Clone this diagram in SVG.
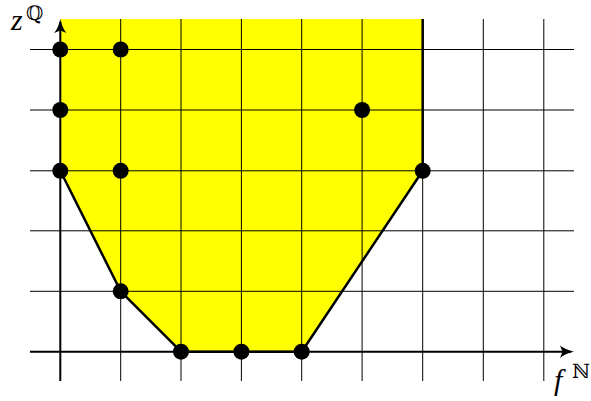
<svg xmlns="http://www.w3.org/2000/svg" width="591" height="401" viewBox="0 0 591 401">
<style>
.grid{stroke:#000;stroke-width:1;fill:none}
.axis{stroke:#000;stroke-width:2;fill:none}
.edge{stroke:#000;stroke-width:2.5;fill:none;stroke-linejoin:round}
.dot{fill:#000}
.lbl{font-family:"Liberation Serif","DejaVu Serif",serif;font-style:italic;font-size:30px;fill:#000}
.sup{font-family:"DejaVu Serif","Liberation Serif",serif;font-size:20px;fill:#000}
</style>
<rect width="591" height="401" fill="#fff"/>
<g id="region">
<polygon points="60.3,19 60.3,170.8 120.7,291.3 181,351.7 301.7,351.7 422.7,170.8 422.7,19" fill="#ffff00"/>
</g>
<g id="grid" class="grid">
<line x1="120.7" y1="19" x2="120.7" y2="381"/>
<line x1="181" y1="19" x2="181" y2="381"/>
<line x1="241.4" y1="19" x2="241.4" y2="381"/>
<line x1="301.7" y1="19" x2="301.7" y2="381"/>
<line x1="362.1" y1="19" x2="362.1" y2="381"/>
<line x1="422.7" y1="19" x2="422.7" y2="381"/>
<line x1="483.3" y1="19" x2="483.3" y2="381"/>
<line x1="543.8" y1="19" x2="543.8" y2="381"/>
<line x1="30" y1="49.5" x2="574" y2="49.5"/>
<line x1="30" y1="110" x2="574" y2="110"/>
<line x1="30" y1="170.8" x2="574" y2="170.8"/>
<line x1="30" y1="230.8" x2="574" y2="230.8"/>
<line x1="30" y1="291.3" x2="574" y2="291.3"/>
</g>
<g id="connectors">
<line class="axis" x1="30" y1="351.7" x2="571" y2="351.7"/>
<path d="M574,351.7 C568,350.5 563,348 560,345.5 L562.5,351.7 L560,357.9 C563,355.4 568,352.9 574,351.7 Z" fill="#000"/>
<line class="axis" x1="60.3" y1="381" x2="60.3" y2="22"/>
<path d="M60.3,19 C59.1,25 56.6,30 54.1,33 L60.3,30.5 L66.5,33 C64,30 61.5,25 60.3,19 Z" fill="#000"/>
<polyline class="edge" points="60.3,170.8 120.7,291.3 181,351.7 301.7,351.7 422.7,170.8 422.7,19"/>
</g>
<g id="points" class="dot">
<circle cx="60.3" cy="49.5" r="8"/>
<circle cx="120.7" cy="49.5" r="8"/>
<circle cx="60.3" cy="110" r="8"/>
<circle cx="362.1" cy="110" r="8"/>
<circle cx="60.3" cy="170.8" r="8"/>
<circle cx="120.7" cy="170.8" r="8"/>
<circle cx="422.7" cy="170.8" r="8"/>
<circle cx="120.7" cy="291.3" r="8"/>
<circle cx="181" cy="351.7" r="8"/>
<circle cx="241.4" cy="351.7" r="8"/>
<circle cx="301.7" cy="351.7" r="8"/>
</g>
<g id="label-z">
<text class="lbl" x="11" y="30">z</text>
<text class="sup" x="26" y="20">ℚ</text>
</g>
<g id="label-f">
<text class="lbl" x="554" y="390">f</text>
<text class="sup" x="572" y="378">ℕ</text>
</g>
</svg>
